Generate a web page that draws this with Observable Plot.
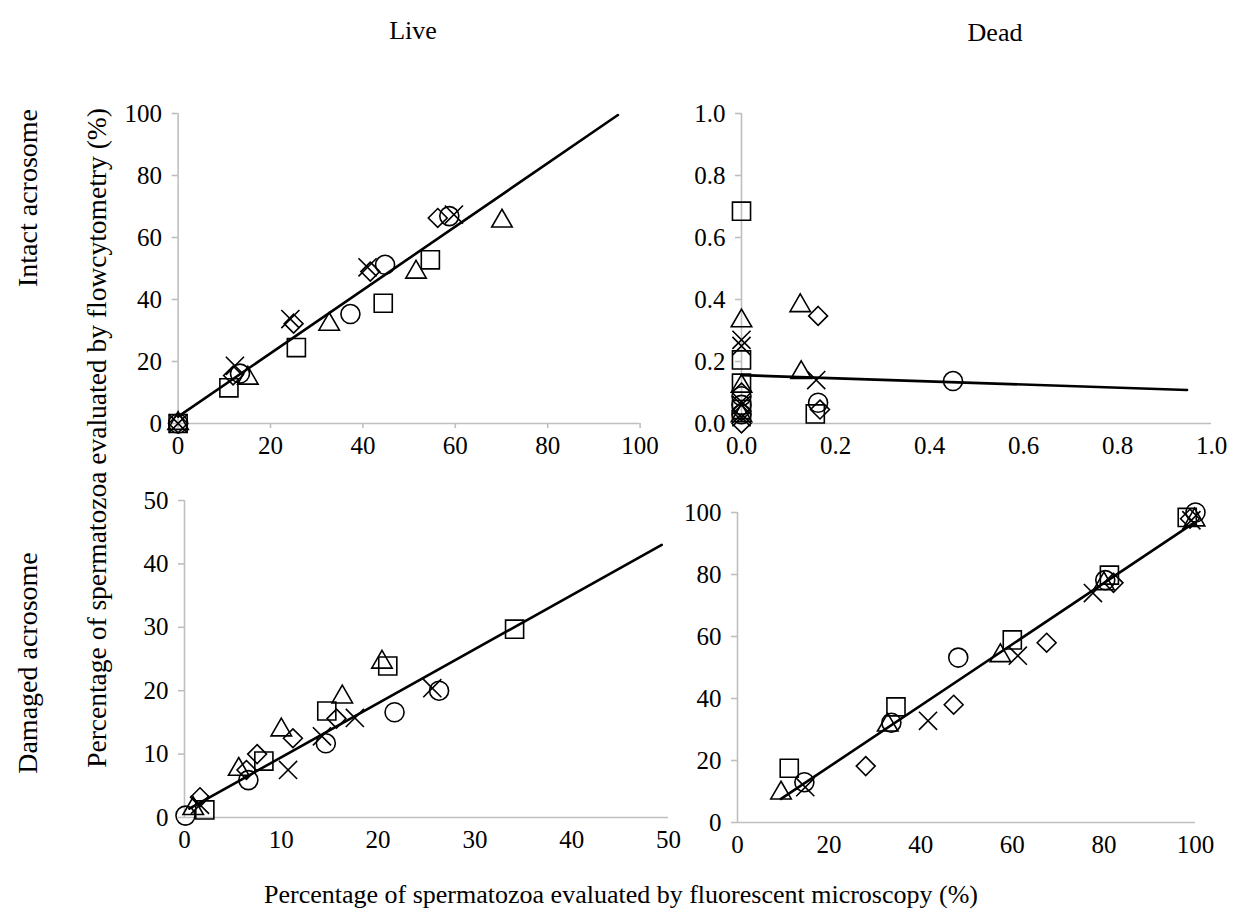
<!DOCTYPE html>
<html>
<head>
<meta charset="utf-8">
<script src="https://cdn.jsdelivr.net/npm/d3@7"></script>
<script src="https://cdn.jsdelivr.net/npm/@observablehq/plot@0.6"></script>
<style>
  body { margin: 0; background: #fff; }
  #root { position: relative; width: 1244px; height: 923px; overflow: hidden;
          font-family: "Liberation Serif", "Times New Roman", serif; color: #000; }
  .panel { position: absolute; }
  .panel svg { overflow: visible; background: transparent; }
  .panel svg text { font-family: "Liberation Serif", "Times New Roman", serif !important; }
  .lab { position: absolute; font-size: 26px; white-space: nowrap; line-height: 1; }
</style>
</head>
<body>
<div id="root"></div>
<script>
// ---- Data ----
// Symbols: one per sample series
const liveIntactX = [0, 11, 25.6, 44.4, 54.6,   0, 13.4, 37.3, 44.8, 58.7,   0, 15.1, 32.7, 51.5, 70.1,   0, 11.9, 25, 41.6, 56.2,   0, 12.3, 24.3, 41, 59.7];
const liveIntactY = [0, 11.5, 24.5, 38.8, 52.8,  0, 16.1, 35.3, 51.2, 66.9,  0, 14.6, 32, 48.8, 65.3,  0, 15.5, 32.2, 49, 66.3,  0, 18.6, 33.7, 50.4, 67.4];
const liveIntactS = ["square","square","square","square","square","circle","circle","circle","circle","circle","triangle","triangle","triangle","triangle","triangle","diamond2","diamond2","diamond2","diamond2","diamond2","times","times","times","times","times"];

const deadIntactX = [0, 0, 0, 0, 0.157,   0, 0, 0.163, 0.45, 0,   0, 0, 0, 0.125, 0.127,   0, 0, 0, 0.163, 0.167,   0, 0, 0, 0, 0.159];
const deadIntactY = [0.685, 0.205, 0.13, 0.045, 0.031,   0.088, 0.03, 0.067, 0.137, 0.06,   0.331, 0.12, 0.025, 0.38, 0.164,   0.1, 0.0, 0.04, 0.347, 0.045,   0.27, 0.25, 0.06, 0.02, 0.14];
const deadIntactS = liveIntactS;

const liveDamagedX = [2.1, 8.2, 14.7, 21, 34.1,   0.1, 6.6, 14.6, 21.7, 26.3,   0.9, 5.6, 10, 16.3, 20.4,   1.6, 6.4, 7.5, 11.2, 15.7,   1.6, 10.7, 14.2, 17.6, 25.6];
const liveDamagedY = [1.2, 8.9, 16.8, 23.9, 29.7,   0.3, 5.9, 11.7, 16.6, 20,   1.4, 7.6, 13.8, 19, 24.5,   3.2, 7.5, 10, 12.5, 15.6,   2, 7.5, 12.8, 15.7, 20.4];
const liveDamagedS = liveIntactS;

const deadDamagedX = [11.3, 34.6, 60, 81.2, 98.2,   14.6, 33.6, 48.2, 80.3, 100,   9.5, 32.8, 57.4, 80, 99.8,   28, 47.2, 67.5, 82.1, 98.8,   14.8, 41.6, 61.2, 77.6, 99.1];
const deadDamagedY = [17.5, 37.3, 58.9, 79.8, 98.4,   13, 32.2, 53.2, 78.2, 100,   9.5, 31.4, 53.8, 77, 97.6,   18.2, 38, 58, 77.3, 98,   11.4, 32.8, 53.8, 74, 97.5];
const deadDamagedS = liveIntactS;

// Fitted trend lines (end points in data units)
const liveIntactTrendX = [0, 95.2];
const liveIntactTrendY = [2.2, 99.5];
const deadIntactTrendX = [0, 0.948];
const deadIntactTrendY = [0.156, 0.108];
const liveDamagedTrendX = [0.5, 49.3];
const liveDamagedTrendY = [1.4, 43];
const deadDamagedTrendX = [9.5, 99.8];
const deadDamagedTrendY = [7.6, 96.8];

// Tick values
const ticks0to100 = [0, 20, 40, 60, 80, 100];
const ticks0to1 = [0, 0.2, 0.4, 0.6, 0.8, 1.0];
const ticks0to50 = [0, 10, 20, 30, 40, 50];

// Text
const columnTitles = ["Live", "Dead"];
const rowTitles = ["Intact acrosome", "Damaged acrosome"];
const yTitle = "Percentage of spermatozoa evaluated by flowcytometry (%)";
const xTitle = "Percentage of spermatozoa evaluated by fluorescent microscopy (%)";

// ---- Drawing ----
const GRAY = "#bfbfbf";
const FS = 25;
const FONT = "Liberation Serif";
const symbolOrder = ["square", "circle", "triangle", "diamond2", "times"];
const symbolR = {square: 10.2, circle: 9.5, triangle: 7.6, diamond2: 8.5, times: 8.3};
const root = document.getElementById("root");

function panel(c) {
  const data = c.xs.map((x, i) => ({x, y: c.ys[i], s: c.ss[i]}));
  const trend = c.tx.map((x, i) => ({x, y: c.ty[i]}));
  const plot = Plot.plot({
    width: c.width, height: c.height,
    marginLeft: c.mL, marginRight: c.mR, marginTop: c.mT, marginBottom: c.mB,
    style: {fontFamily: FONT, fontSize: FS + "px", color: "black", background: "transparent", overflow: "visible"},
    x: {domain: c.xDomain},
    y: {domain: c.yDomain},
    marks: [
      Plot.ruleY([c.yDomain[0]], {stroke: GRAY, strokeWidth: 1.6}),
      Plot.ruleX([c.xDomain[0]], {stroke: GRAY, strokeWidth: 1.6}),
      Plot.axisX({ticks: c.xTicks, tickFormat: c.fmt, tickSize: c.xTickSize, tickPadding: c.xTickPad, stroke: GRAY, strokeWidth: 1.6, fill: "black", fontSize: FS, fontFamily: FONT, label: null}),
      Plot.axisY({ticks: c.yTicks, tickFormat: c.fmt, tickSize: 6, tickPadding: 10, stroke: GRAY, strokeWidth: 1.6, fill: "black", fontSize: FS, fontFamily: FONT, label: null}),
      Plot.line(trend, {x: "x", y: "y", stroke: "black", strokeWidth: 2.6}),
      ...symbolOrder.map(sym => Plot.dot(data.filter(d => d.s === sym), {
        x: "x", y: "y", symbol: sym, r: symbolR[sym], stroke: "black", strokeWidth: 1.6, fill: "none"
      }))
    ]
  });
  const div = document.createElement("div");
  div.className = "panel";
  div.style.left = c.left + "px";
  div.style.top = c.top + "px";
  div.appendChild(plot);
  root.appendChild(div);
}

const fmtInt = d3.format("d");
const fmt1 = d3.format(".1f");

// Top-left: Live / Intact
panel({xs: liveIntactX, ys: liveIntactY, ss: liveIntactS, tx: liveIntactTrendX, ty: liveIntactTrendY,
  xDomain: [0, 100], yDomain: [0, 100], xTicks: ticks0to100, yTicks: ticks0to100, fmt: fmtInt,
  xTickSize: 5, xTickPad: 8,
  left: 100, top: 90, width: 570, height: 370, mL: 77.6, mR: 30.4, mT: 23, mB: 37});

// Top-right: Dead / Intact
panel({xs: deadIntactX, ys: deadIntactY, ss: deadIntactS, tx: deadIntactTrendX, ty: deadIntactTrendY,
  xDomain: [0, 1], yDomain: [0, 1], xTicks: ticks0to1, yTicks: ticks0to1, fmt: fmt1,
  xTickSize: 0, xTickPad: 13,
  left: 680, top: 90, width: 564, height: 370, mL: 61, mR: 33, mT: 23, mB: 37});

// Bottom-left: Live / Damaged
panel({xs: liveDamagedX, ys: liveDamagedY, ss: liveDamagedS, tx: liveDamagedTrendX, ty: liveDamagedTrendY,
  xDomain: [0, 50], yDomain: [0, 50], xTicks: ticks0to50, yTicks: ticks0to50, fmt: fmtInt,
  xTickSize: 0, xTickPad: 13,
  left: 100, top: 470, width: 590, height: 390, mL: 84, mR: 22, mT: 30, mB: 43});

// Bottom-right: Dead / Damaged
panel({xs: deadDamagedX, ys: deadDamagedY, ss: deadDamagedS, tx: deadDamagedTrendX, ty: deadDamagedTrendY,
  xDomain: [0, 100], yDomain: [0, 100], xTicks: ticks0to100, yTicks: ticks0to100, fmt: fmtInt,
  xTickSize: 0, xTickPad: 13,
  left: 680, top: 470, width: 564, height: 390, mL: 57, mR: 49, mT: 42, mB: 38});

// Labels
function label(text, cx, cy, rotate, size) {
  const d = document.createElement("div");
  d.className = "lab";
  d.textContent = text;
  d.style.left = cx + "px";
  d.style.top = cy + "px";
  if (size) d.style.fontSize = size + "px";
  d.style.transform = "translate(-50%, -50%)" + (rotate ? " rotate(-90deg)" : "");
  root.appendChild(d);
}
label(columnTitles[0], 413, 31, false, 26);
label(columnTitles[1], 995, 33, false, 26);
label(rowTitles[0], 28, 198, true, 28);
label(rowTitles[1], 28, 663, true, 28);
label(yTitle, 97, 438, true, 27.5);
label(xTitle, 621, 895, false, 26);
</script>
</body>
</html>
